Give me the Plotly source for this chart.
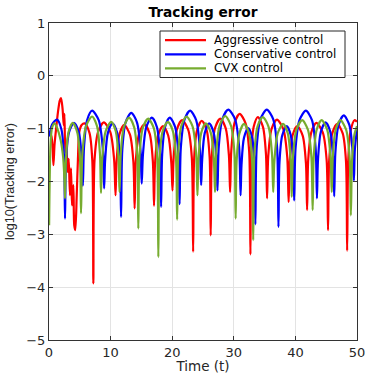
import plotly.graph_objects as go

# ---- data (time, log10 error) ----
t_red = [0.05, 0.4, 0.6, 0.72, 0.9, 1.2, 1.45, 1.75, 1.95, 2.2, 2.4, 2.5, 2.65, 2.8, 3.03, 3.2, 3.4, 3.57,
         3.73, 3.95, 4.1, 4.27, 4.5, 4.7, 4.92, 5.3, 5.8, 6.57, 7.03, 7.2,
         7.4, 7.97, 8.9, 9.94, 10.57, 10.8,
         10.97, 11.43, 12.2, 13.13, 13.7, 13.9,
         14.09, 14.62, 15.5, 16.35, 16.86, 17.05,
         17.22, 17.7, 18.5, 19.35, 19.86, 20.05,
         20.24, 20.75, 21.6, 22.59, 23.18, 23.4,
         23.57, 24.03, 24.8, 25.6, 26.08, 26.25,
         26.44, 26.95, 27.8, 28.68, 29.21, 29.4,
         29.59, 30.1, 30.95, 31.91, 32.49, 32.7,
         32.84, 33.24, 33.9, 34.72, 35.22, 35.4,
         35.59, 36.12, 37.0, 38.04, 38.67, 38.9,
         39.07, 39.53, 40.3, 41.18, 41.71, 41.9,
         42.08, 42.58, 43.4, 44.44, 45.07, 45.3,
         45.48, 45.98, 46.8, 47.68, 48.21, 48.4,
         48.58, 48.95, 49.6, 50.0]
v_red = [-1.05, -1.15, -1.4, -1.69, -1.3, -0.95, -0.69, -0.47, -0.42, -0.62, -0.94, -0.72, -1.44, -1.3, -1.82, -1.57, -2.26, -1.75,
         -2.45, -2.07, -2.83, -2.92, -2.26, -1.57, -1.06, -0.93, -0.9, -1.08, -1.6, -3.93,
         -1.58, -1.06, -0.88, -1.06, -1.58, -2.26,
         -1.63, -1.11, -0.93, -1.11, -1.63, -2.51,
         -1.62, -1.10, -0.92, -1.10, -1.62, -2.46,
         -1.65, -1.13, -0.95, -1.13, -1.65, -2.17,
         -1.54, -1.02, -0.84, -1.02, -1.54, -3.33,
         -1.55, -1.03, -0.85, -1.03, -1.55, -3.02,
         -1.51, -0.99, -0.81, -0.99, -1.51, -2.20,
         -1.42, -0.90, -0.72, -0.90, -1.42, -3.38,
         -1.48, -0.96, -0.78, -0.96, -1.48, -2.32,
         -1.53, -1.01, -0.83, -1.01, -1.53, -2.39,
         -1.65, -1.13, -0.95, -1.13, -1.65, -2.54,
         -1.59, -1.07, -0.89, -1.07, -1.59, -2.92,
         -1.61, -1.09, -0.91, -1.09, -1.61, -3.31,
         -1.6, -1.05, -0.84, -0.87]

t_blue = [0.05, 0.5, 1.3, 2.01, 2.44, 2.6,
          2.77, 3.25, 4.05, 4.85, 5.33, 5.5,
          5.68, 6.18, 7.0, 8.07, 8.72, 8.95,
          9.11, 9.56, 10.3, 11.07, 11.53, 11.7,
          11.9, 12.44, 13.35, 14.28, 14.85, 15.05,
          15.25, 15.79, 16.7, 17.52, 18.02, 18.2,
          18.37, 18.83, 19.6, 20.48, 21.01, 21.2,
          21.4, 21.97, 22.9, 23.89, 24.48, 24.7,
          24.86, 25.29, 26.0, 26.74, 27.19, 27.35,
          27.56, 28.14, 29.1, 30.2, 30.86, 31.1,
          31.25, 31.66, 32.35, 32.98, 33.36, 33.5,
          33.72, 34.33, 35.35, 36.39, 37.02, 37.25,
          37.41, 37.86, 38.6, 39.26, 39.66, 39.8,
          40.03, 40.66, 41.7, 42.69, 43.28, 43.5,
          43.67, 44.13, 44.9, 45.67, 46.13, 46.3,
          46.49, 47.0, 47.85, 48.76, 49.3, 49.5,
          49.65, 50.0]
v_blue = [-1.15, -0.92, -0.83, -1.01, -1.53, -2.70,
          -1.59, -1.07, -0.89, -1.07, -1.59, -2.08,
          -1.36, -0.84, -0.66, -0.84, -1.36, -2.13,
          -1.60, -1.08, -0.90, -1.08, -1.60, -2.67,
          -1.40, -0.88, -0.70, -0.88, -1.40, -2.04,
          -1.49, -0.97, -0.79, -0.97, -1.49, -2.48,
          -1.49, -0.97, -0.79, -0.97, -1.49, -2.43,
          -1.36, -0.84, -0.66, -0.84, -1.36, -2.07,
          -1.60, -1.08, -0.90, -1.08, -1.60, -2.17,
          -1.34, -0.82, -0.64, -0.82, -1.34, -2.26,
          -1.69, -1.17, -0.99, -1.17, -1.69, -2.81,
          -1.34, -0.82, -0.64, -0.82, -1.34, -2.86,
          -1.65, -1.13, -0.95, -1.13, -1.65, -2.36,
          -1.36, -0.84, -0.66, -0.84, -1.36, -2.32,
          -1.58, -1.06, -0.88, -1.06, -1.58, -2.28,
          -1.45, -0.93, -0.75, -0.93, -1.45, -1.98,
          -1.4, -1.0]

t_green = [0.02, 0.25, 0.5, 0.9, 1.3, 1.9, 2.3, 2.5, 2.6,
           2.75, 3.16, 3.85, 4.59, 5.04, 5.2,
           5.42, 6.01, 7.0, 7.79, 8.27, 8.44,
           8.64, 9.19, 10.1, 10.84, 11.29, 11.45,
           11.64, 12.15, 13.0, 13.82, 14.32, 14.5,
           14.69, 15.22, 16.1, 17.01, 17.55, 17.75,
           17.94, 18.45, 19.3, 20.12, 20.62, 20.8,
           20.98, 21.48, 22.3, 23.29, 23.88, 24.1,
           24.26, 24.71, 25.45, 26.27, 26.77, 26.95,
           27.15, 27.69, 28.6, 29.53, 30.1, 30.3,
           30.46, 30.91, 31.65, 32.47, 32.97, 33.15,
           33.34, 33.85, 34.7, 35.63, 36.2, 36.4,
           36.59, 37.12, 38.0, 38.77, 39.23, 39.4,
           39.6, 40.17, 41.1, 42.03, 42.6, 42.8,
           42.97, 43.45, 44.25, 45.16, 45.7, 45.9,
           46.07, 46.53, 47.3, 48.23, 48.8, 49.0,
           49.2, 49.6, 50.0]
v_green = [-2.83, -1.3, -0.98, -0.9, -0.98, -1.22, -1.55, -1.95, -2.32,
           -1.59, -1.07, -0.89, -1.07, -1.59, -2.60,
           -1.47, -0.95, -0.77, -0.95, -1.47, -2.22,
           -1.57, -1.05, -0.87, -1.05, -1.57, -2.20,
           -1.49, -0.97, -0.79, -0.97, -1.49, -2.89,
           -1.51, -0.99, -0.81, -0.99, -1.51, -3.43,
           -1.57, -1.05, -0.87, -1.05, -1.57, -2.72,
           -1.47, -0.95, -0.77, -0.95, -1.47, -2.26,
           -1.60, -1.08, -0.90, -1.08, -1.60, -2.20,
           -1.46, -0.94, -0.76, -0.94, -1.46, -2.70,
           -1.61, -1.09, -0.91, -1.09, -1.61, -3.11,
           -1.48, -0.96, -0.78, -0.96, -1.48, -2.20,
           -1.61, -1.09, -0.91, -1.09, -1.61, -2.29,
           -1.54, -1.02, -0.84, -1.02, -1.54, -2.54,
           -1.54, -1.02, -0.84, -1.02, -1.54, -2.20,
           -1.54, -1.02, -0.84, -1.02, -1.54, -2.64,
           -1.6, -1.1, -0.95]

series_names = ["Aggressive control", "Conservative control", "CVX control"]
series_colors = ["#ff0000", "#0000ff", "#77ac30"]
x_ticks = [0, 10, 20, 30, 40, 50]
y_ticks = [-5, -4, -3, -2, -1, 0, 1]

FONT = "DejaVu Sans, sans-serif"
FONT_Y = "Liberation Sans, Arial, sans-serif"
AX = "#333333"

W, H = 365, 374
L, R, T, B = 49, 8, 23, 34
PW, PH = W - L - R, H - T - B


def px_x(px):
    return (px - L) / PW


def px_y(py):
    return (H - B - py) / PH


fig = go.Figure()
for name, tx, vy, col in zip(series_names, [t_red, t_blue, t_green],
                             [v_red, v_blue, v_green], series_colors):
    fig.add_trace(go.Scatter(x=tx, y=vy, mode="lines", name=name, showlegend=False,
                             line=dict(color=col, width=2.2, shape="spline", smoothing=0.8)))

axis_common = dict(showline=True, linecolor=AX, linewidth=1.2, mirror="ticks",
                   ticks="inside", ticklen=4, tickcolor=AX, tickwidth=1,
                   showgrid=True, gridcolor="#e3e3e3", gridwidth=1, zeroline=False,
                   automargin=False, ticklabeloverflow="allow",
                   tickfont=dict(family=FONT, size=13, color="#262626"))

# legend drawn as a boxed key (MATLAB style)
shapes = [dict(type="rect", xref="paper", yref="paper",
               x0=px_x(160), x1=px_x(345), y0=px_y(77.5), y1=px_y(31),
               line=dict(color="#262626", width=1), fillcolor="white", layer="above")]
annotations = []
row_y = [40.2, 54.3, 68.4]
for name, col, ry in zip(series_names, series_colors, row_y):
    shapes.append(dict(type="line", xref="paper", yref="paper",
                       x0=px_x(165), x1=px_x(206), y0=px_y(ry), y1=px_y(ry),
                       line=dict(color=col, width=2.2), layer="above"))
    annotations.append(dict(text=name, xref="paper", yref="paper",
                            x=px_x(213), y=px_y(ry), xanchor="left", yanchor="middle",
                            showarrow=False, borderpad=0,
                            font=dict(family=FONT, size=11.8, color="black")))

fig.update_layout(
    width=W, height=H,
    margin=dict(l=L, r=R, t=T, b=B),
    paper_bgcolor="white", plot_bgcolor="white",
    title=dict(text="<b>Tracking error</b>", x=(L + W - R) / 2 / W, xanchor="center",
               y=1 - 12 / H, yanchor="middle",
               font=dict(family=FONT, size=13.7, color="black")),
    xaxis=dict(range=[0, 50], tickvals=x_ticks,
               title=dict(text="Time (t)", standoff=5, font=dict(family=FONT, size=13.5, color="#262626")),
               **axis_common),
    yaxis=dict(range=[-5, 1], tickvals=y_ticks,
               title=dict(text="log10(Tracking error)", standoff=8, font=dict(family=FONT_Y, size=12.6, color="#262626")),
               **axis_common),
    shapes=shapes,
    annotations=annotations,
    showlegend=False,
)

fig.write_html("out.html")
